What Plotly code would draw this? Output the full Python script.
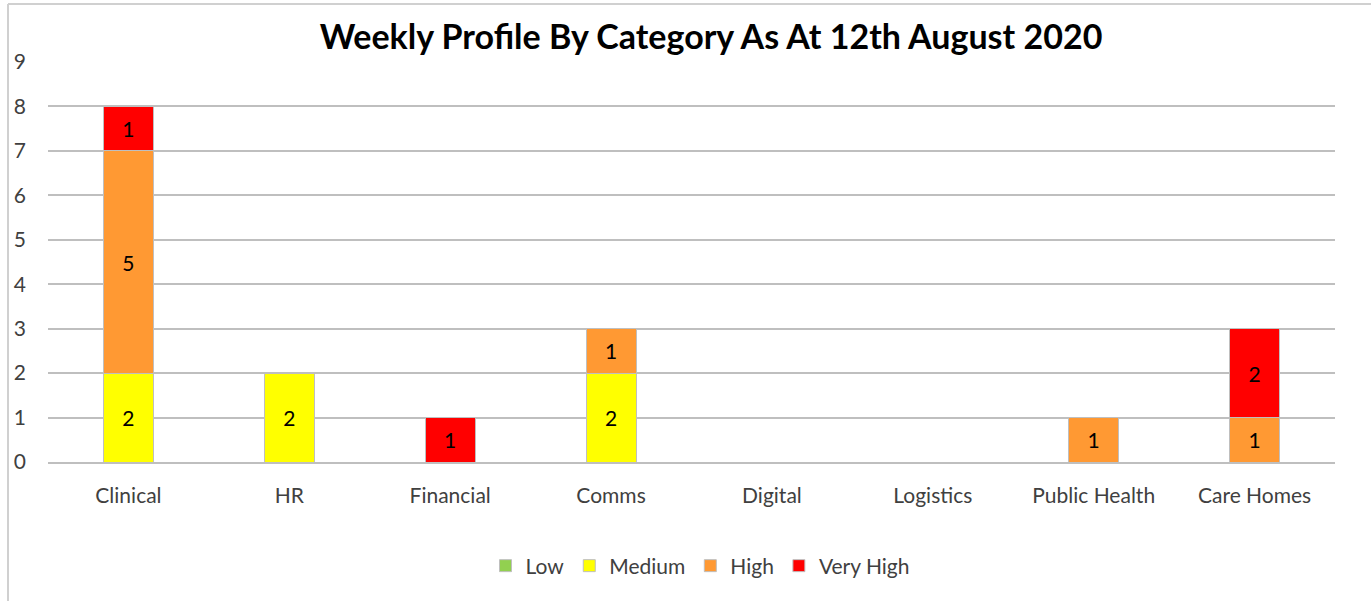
import plotly.graph_objects as go

categories = ["Clinical", "HR", "Financial", "Comms", "Digital", "Logistics", "Public Health", "Care Homes"]
low = [0, 0, 0, 0, 0, 0, 0, 0]
medium = [2, 2, 0, 2, 0, 0, 0, 0]
high = [5, 0, 0, 1, 0, 0, 1, 1]
very_high = [1, 0, 1, 0, 0, 0, 0, 2]
y_ticks = [0, 1, 2, 3, 4, 5, 6, 7, 8, 9]

series = [
    ("Low", low, "#92D050"),
    ("Medium", medium, "#FFFF00"),
    ("High", high, "#FF9933"),
    ("Very High", very_high, "#FF0000"),
]

FONT = "Lato, Calibri, Carlito, sans-serif"
FS = 21

fig = go.Figure()
for name, vals, color in series:
    fig.add_trace(go.Bar(
        name=name,
        x=categories,
        y=[v if v else None for v in vals],
        text=[str(v) if v else "" for v in vals],
        textposition="inside",
        insidetextanchor="middle",
        textangle=0,
        textfont=dict(family=FONT, size=FS, color="#000000"),
        marker=dict(color=color, line=dict(color="#BFBFBF", width=1)),
        hoverinfo="x+y+name",
    ))

fig.update_layout(
    width=1371,
    height=601,
    barmode="stack",
    bargap=0.69,
    uniformtext=dict(minsize=FS, mode="show"),
    plot_bgcolor="white",
    paper_bgcolor="white",
    margin=dict(l=48, r=36, t=62, b=139, autoexpand=False),
    font=dict(family=FONT, size=FS, color="#404040"),
    title=dict(
        text="<b>Weekly Profile By Category As At 12th August 2020</b>",
        font=dict(family=FONT, size=34, color="#000000"),
        x=(711 / 1371), xanchor="center",
        y=1 - 37 / 601, yanchor="middle",
    ),
    legend=dict(
        orientation="h",
        x=0.507, xanchor="center",
        y=-0.26, yanchor="middle",
        traceorder="normal",
        font=dict(family=FONT, size=FS, color="#404040"),
        itemwidth=30,
    ),
    xaxis=dict(
        showgrid=False,
        showline=True,
        linecolor="#BFBFBF",
        linewidth=1.5,
        ticks="",
        ticklabelstandoff=14,
        tickfont=dict(family=FONT, size=FS, color="#404040"),
    ),
    yaxis=dict(
        range=[0, 9],
        tickvals=y_ticks,
        showgrid=True,
        gridcolor="#BFBFBF",
        gridwidth=1.5,
        zeroline=False,
        showline=False,
        ticks="",
        ticklabelstandoff=21,
        tickfont=dict(family=FONT, size=FS, color="#404040"),
    ),
    shapes=[
        dict(type="line", xref="paper", yref="paper",
             x0=(8 - 48) / 1287, x1=(8 - 48) / 1287, y0=(462 - 601) / 400, y1=(462 - 4) / 400,
             line=dict(color="#D0D0D0", width=2)),
        dict(type="line", xref="paper", yref="paper",
             x0=(8 - 48) / 1287, x1=(1371 - 48) / 1287, y0=(462 - 4) / 400, y1=(462 - 4) / 400,
             line=dict(color="#D0D0D0", width=2)),
    ],
)

fig.write_html("out.html", config={"displayModeBar": False},
               post_script="document.body.style.margin='0';")
